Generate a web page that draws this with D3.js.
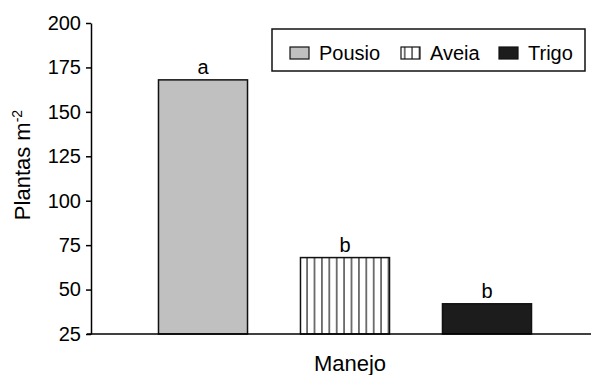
<!DOCTYPE html>
<html>
<head>
<meta charset="utf-8">
<script src="https://cdn.jsdelivr.net/npm/d3@7"></script>
<style>
  body { margin: 0; background: #fff; }
  text { font-family: "Liberation Sans", Arial, sans-serif; fill: #000; }
</style>
</head>
<body>
<div id="app"></div>
<script>
// Data
const categories = ["Pousio", "Aveia", "Trigo"];
const values = [168, 68, 42];
const letters = ["a", "b", "b"];
const yTicks = [25, 50, 75, 100, 125, 150, 175, 200];

const width = 592;
const height = 375;

const svg = d3
  .select("#app")
  .append("svg")
  .attr("width", width)
  .attr("height", height);

// Stripe pattern for Aveia
const defs = svg.append("defs");
const pat = defs
  .append("pattern")
  .attr("id", "stripes")
  .attr("patternUnits", "userSpaceOnUse")
  .attr("width", 7.4)
  .attr("height", 10);
pat.append("rect").attr("width", 7.4).attr("height", 10).attr("fill", "#fff");
pat
  .append("line")
  .attr("x1", 3.7)
  .attr("x2", 3.7)
  .attr("y1", 0)
  .attr("y2", 10)
  .attr("stroke", "#555")
  .attr("stroke-width", 1.6);

const fills = ["#c0c0c0", "url(#stripes)", "#1c1c1c"];

// Scales
const yScale = d3.scaleLinear().domain([25, 200]).range([334, 23]);
const xScale = d3
  .scaleBand()
  .domain(categories)
  .range([98, 592])
  .paddingInner(0.373)
  .paddingOuter(0.426);

// Bars
svg
  .selectAll("rect.bar")
  .data(categories)
  .enter()
  .append("rect")
  .attr("class", "bar")
  .attr("x", (d) => xScale(d))
  .attr("y", (d, i) => yScale(values[i]))
  .attr("width", xScale.bandwidth())
  .attr("height", (d, i) => yScale(25) - yScale(values[i]))
  .attr("fill", (d, i) => fills[i])
  .attr("stroke", "#111")
  .attr("stroke-width", 1.5);

// Significance letters
svg
  .selectAll("text.letter")
  .data(categories)
  .enter()
  .append("text")
  .attr("class", "letter")
  .attr("x", (d) => xScale(d) + xScale.bandwidth() / 2)
  .attr("y", (d, i) => yScale(values[i]) - 6)
  .attr("text-anchor", "middle")
  .style("font-size", "20px")
  .text((d, i) => letters[i]);

// Axes
const yAxis = d3
  .axisLeft(yScale)
  .tickValues(yTicks)
  .tickSize(5)
  .tickSizeOuter(0)
  .tickPadding(5);

const gy = svg
  .append("g")
  .attr("transform", "translate(91, 0)")
  .call(yAxis);
gy.select(".domain").attr("stroke", "#000").attr("stroke-width", 1.5);
gy.selectAll(".tick line").attr("stroke", "#000").attr("stroke-width", 1.5);
gy.selectAll(".tick text")
  .style("font-size", "20px")
  .style("font-family", "'Liberation Sans', Arial, sans-serif")
  .attr("fill", "#000");

// X axis baseline
svg
  .append("line")
  .attr("x1", 87)
  .attr("x2", 591)
  .attr("y1", yScale(25))
  .attr("y2", yScale(25))
  .attr("stroke", "#000")
  .attr("stroke-width", 1.5);

// Axis titles
const yLabel = svg
  .append("text")
  .attr("transform", "translate(30, 165) rotate(-90)")
  .attr("text-anchor", "middle")
  .style("font-size", "22px");
yLabel.append("tspan").text("Plantas m");
yLabel
  .append("tspan")
  .attr("dy", -8)
  .style("font-size", "14px")
  .text("-2");

svg
  .append("text")
  .attr("x", 350)
  .attr("y", 371)
  .attr("text-anchor", "middle")
  .style("font-size", "22px")
  .text("Manejo");

// Legend
const legend = svg.append("g");
legend
  .append("rect")
  .attr("x", 272)
  .attr("y", 29)
  .attr("width", 313)
  .attr("height", 42)
  .attr("fill", "#fff")
  .attr("stroke", "#111")
  .attr("stroke-width", 1.5);

const legendX = [290, 401, 499];
const items = legend
  .selectAll("g.item")
  .data(categories)
  .enter()
  .append("g")
  .attr("class", "item")
  .attr("transform", (d, i) => `translate(${legendX[i]}, 47)`);

items
  .append("rect")
  .attr("width", 19)
  .attr("height", 12)
  .attr("fill", (d, i) => fills[i])
  .attr("stroke", "#111")
  .attr("stroke-width", 1.2);

items
  .append("text")
  .attr("x", 29)
  .attr("y", 13)
  .style("font-size", "20px")
  .text((d) => d);
</script>
</body>
</html>
